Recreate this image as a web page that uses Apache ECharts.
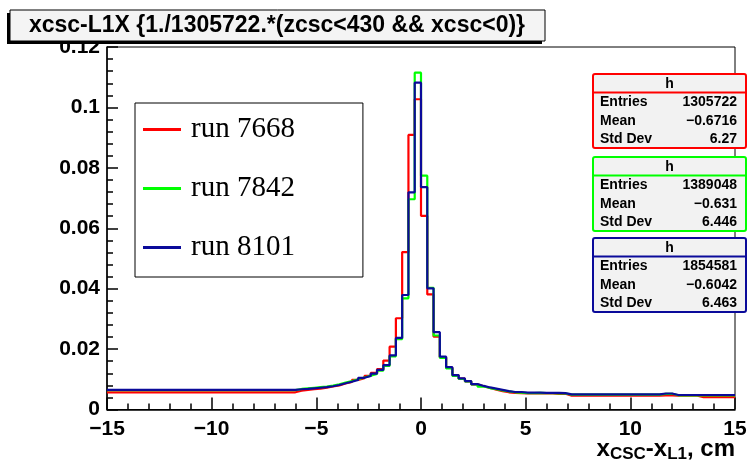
<!DOCTYPE html>
<html>
<head>
<meta charset="utf-8">
<script src="https://cdn.jsdelivr.net/npm/echarts@6/dist/echarts.min.js"></script>
<style>html,body{margin:0;padding:0;background:#fff}#c{width:752px;height:462px}</style>
</head>
<body>
<div id="c"></div>
<script>
// Histogram binning: 100 bins from -15 to 15
const binMin = -15;
const binWidth = 0.3;
const xTicks = [-15, -10, -5, 0, 5, 10, 15];
const yTicks = [0, 0.02, 0.04, 0.06, 0.08, 0.1, 0.12];

const seriesNames = ['run 7668', 'run 7842', 'run 8101'];

const run7668 = [
  0.0057,0.0057,0.0057,0.0057,0.0057,0.0057,0.0057,0.0057,0.0057,0.0057,
  0.0057,0.0057,0.0057,0.0057,0.0057,0.0057,0.0057,0.0057,0.0057,0.0057,
  0.0057,0.0057,0.0057,0.0057,0.0057,0.0057,0.0057,0.0057,0.0057,0.0057,
  0.0062,0.0065,0.0067,0.0069,
  0.0072,0.0076,0.0080,0.0086,0.0091,0.0098,
  0.0104,0.0111,0.0121,0.0134,0.0162,0.0208,0.0302,0.0521,0.0909,0.1027,
  0.0641,0.0381,0.0241,0.0173,0.0138,0.0113,0.0102,0.0093,0.0083,0.0077,
  0.0071,0.0066,0.0061,0.0057,0.0055,0.0054,0.0053,0.0053,0.0053,0.0053,
  0.0053,0.0052,0.0052,
  0.0046,0.0046,0.0046,0.0046,0.0046,0.0046,0.0046,0.0046,0.0046,0.0046,
  0.0046,0.0046,0.0046,0.0046,0.0046,
  0.0047,0.0047,
  0.0046,0.0046,0.0046,0.0046,0.0041,0.0041,0.0041,0.0041,0.0041,0.0041
];
const run7842 = [
  0.0064,0.0064,0.0064,0.0064,0.0064,0.0064,0.0064,0.0064,0.0064,0.0064,
  0.0064,0.0064,0.0064,0.0064,0.0064,0.0064,0.0064,0.0064,0.0064,0.0064,
  0.0064,0.0064,0.0064,0.0064,0.0064,0.0064,0.0064,0.0064,0.0064,0.0064,
  0.0068,0.0070,0.0072,0.0074,
  0.0076,0.0079,0.0083,0.0089,0.0094,0.0100,
  0.0106,0.0112,0.0118,0.0129,0.0144,0.0176,0.0233,0.0368,0.0696,0.1115,
  0.0774,0.0403,0.0245,0.0171,0.0136,0.0111,0.0101,0.0093,0.0083,0.0076,
  0.0071,0.0067,0.0063,0.0060,0.0057,0.0056,0.0054,0.0054,0.0055,0.0054,
  0.0054,0.0053,0.0053,
  0.0049,0.0049,0.0049,0.0049,0.0049,0.0049,0.0049,0.0049,0.0049,0.0049,
  0.0049,0.0049,0.0049,0.0049,0.0049,
  0.0052,0.0052,
  0.0047,0.0047,0.0047,0.0047,0.0047,0.0047,0.0047,0.0047,0.0047,0.0047
];
const run8101 = [
  0.0065,0.0065,0.0065,0.0065,0.0065,0.0065,0.0065,0.0065,0.0065,0.0065,
  0.0065,0.0065,0.0065,0.0065,0.0065,0.0065,0.0065,0.0065,0.0065,0.0065,
  0.0065,0.0065,0.0065,0.0065,0.0065,0.0065,0.0065,0.0065,0.0065,0.0065,
  0.0067,0.0068,0.0070,0.0072,
  0.0074,0.0077,0.0081,0.0087,0.0092,0.0098,
  0.0105,0.0111,0.0119,0.0131,0.0147,0.0179,0.0237,0.0379,0.0719,0.1082,
  0.0736,0.0401,0.0256,0.0175,0.0140,0.0114,0.0103,0.0094,0.0084,0.0078,
  0.0073,0.0069,0.0065,0.0061,0.0058,0.0058,0.0056,0.0056,0.0056,0.0055,
  0.0055,0.0055,0.0054,
  0.0050,0.0050,0.0050,0.0050,0.0050,0.0050,0.0050,0.0050,0.0050,0.0050,
  0.0050,0.0050,0.0050,0.0050,0.0050,
  0.0053,0.0053,
  0.0048,0.0048,0.0048,0.0048,0.0048,0.0048,0.0048,0.0048,0.0048,0.0048
];

const statLabels = ['Entries', 'Mean', 'Std Dev'];
const stats7668 = ['1305722', '\u22120.6716', '6.27'];
const stats7842 = ['1389048', '\u22120.631', '6.446'];
const stats8101 = ['1854581', '\u22120.6042', '6.463'];

const titleText = 'xcsc-L1X {1./1305722.*(zcsc<430 && xcsc<0)}';

const colors = ['#ff0000', '#00ff00', '#0a0a9a'];
const allRuns = [run7668, run7842, run8101];
const allStats = [stats7668, stats7842, stats8101];

function toSteps(vals) {
  const pts = vals.map((v, i) => [binMin + i * binWidth, v]);
  pts.push([binMin + vals.length * binWidth, vals[vals.length - 1]]);
  return pts;
}
const fmtMinus = v => String(v).replace('-', '\u2212');
const sansBold = '"Liberation Sans", Arial, sans-serif';

const chart = echarts.init(document.getElementById('c'), null, {renderer: 'canvas'});

const graphics = [];
// title box with shadow
graphics.push({type: 'rect', z: 15, shape: {x: 7, y: 13, width: 535, height: 31}, style: {fill: '#000'}});
graphics.push({type: 'rect', z: 16, shape: {x: 10, y: 10, width: 535, height: 31}, style: {fill: '#f4f4f4', stroke: '#000', lineWidth: 1}});

// x axis title with subscripts
graphics.push({
  type: 'text', z: 17, x: 735, y: 437,
  style: {
    text: '{m|x}{s|CSC}{m|-x}{s|L1}{m|, cm}',
    textAlign: 'right', textVerticalAlign: 'top',
    rich: {
      m: {fontSize: 24, fontWeight: 'bold', fontFamily: sansBold, fill: '#000', verticalAlign: 'top', lineHeight: 24},
      s: {fontSize: 17, fontWeight: 'bold', fontFamily: sansBold, fill: '#000', verticalAlign: 'top', lineHeight: 24, padding: [9, 0, 0, 0]}
    }
  }
});

// stats boxes
const boxTops = [74, 157, 238];
const boxX = 593, boxW = 153, boxH = 74, headH = 18.5;
const statFont = 'bold 14px "Liberation Sans", Arial, sans-serif';
allStats.forEach((st, k) => {
  const top = boxTops[k];
  graphics.push({type: 'rect', z: 15, shape: {x: boxX, y: top, width: boxW, height: boxH, r: 2}, style: {fill: '#f2f2f2', stroke: colors[k], lineWidth: 2}});
  graphics.push({type: 'line', z: 16, shape: {x1: boxX, y1: top + headH, x2: boxX + boxW, y2: top + headH}, style: {stroke: colors[k], lineWidth: 2}});
  graphics.push({type: 'text', z: 17, x: boxX + boxW / 2, y: top + headH / 2 + 1, style: {text: 'h', fill: '#000', font: statFont, textAlign: 'center', textVerticalAlign: 'middle'}});
  statLabels.forEach((lab, r) => {
    const yy = top + 28.5 + r * 18.3;
    graphics.push({type: 'text', z: 17, x: boxX + 7, y: yy, style: {text: lab, fill: '#000', font: statFont, textAlign: 'left', textVerticalAlign: 'middle'}});
    graphics.push({type: 'text', z: 17, x: boxX + boxW - 9, y: yy, style: {text: st[r], fill: '#000', font: statFont, textAlign: 'right', textVerticalAlign: 'middle'}});
  });
});

chart.setOption({
  animation: false,
  backgroundColor: '#ffffff',
  title: {
    text: titleText,
    left: 277, top: 14, textAlign: 'center', padding: 0, z: 20,
    textStyle: {fontSize: 23, fontWeight: 'bold', fontFamily: sansBold, color: '#000'}
  },
  legend: {
    data: seriesNames,
    orient: 'vertical',
    left: 135, top: 103,
    padding: [12, 68, 15, 8],
    itemGap: 30,
    itemWidth: 38, itemHeight: 3,
    icon: 'rect',
    backgroundColor: '#fff',
    borderColor: '#000', borderWidth: 1,
    textStyle: {fontFamily: '"Liberation Serif", "Times New Roman", serif', fontSize: 29, color: '#000', padding: [0, 0, 0, 5]},
    selectedMode: false
  },
  grid: {left: 107, right: 17, top: 47, bottom: 52.5, show: true, borderColor: '#000', borderWidth: 1, containLabel: false, outerBoundsMode: 'none'},
  xAxis: {
    type: 'value', min: xTicks[0], max: xTicks[xTicks.length - 1], interval: 5,
    axisLine: {show: true, onZero: false, lineStyle: {color: '#000', width: 1.5}},
    axisTick: {show: true, inside: true, length: 12, lineStyle: {color: '#000', width: 1.5}},
    minorTick: {show: true, splitNumber: 5, length: 6, lineStyle: {color: '#000', width: 1.5}},
    splitLine: {show: false},
    axisLabel: {margin: 9, fontSize: 21, fontWeight: 'bold', fontFamily: sansBold, color: '#000', formatter: fmtMinus}
  },
  yAxis: {
    type: 'value', min: yTicks[0], max: yTicks[yTicks.length - 1], interval: 0.02,
    axisLine: {show: true, onZero: false, lineStyle: {color: '#000', width: 1.5}},
    axisTick: {show: true, inside: true, length: 11, lineStyle: {color: '#000', width: 1.5}},
    minorTick: {show: true, splitNumber: 5, length: 6, lineStyle: {color: '#000', width: 1.5}},
    splitLine: {show: false},
    axisLabel: {margin: 7, fontSize: 21, fontWeight: 'bold', fontFamily: sansBold, color: '#000'}
  },
  series: allRuns.map((vals, k) => ({
    name: seriesNames[k],
    type: 'line',
    step: 'end',
    data: toSteps(vals),
    showSymbol: false,
    symbol: 'none',
    lineStyle: {color: colors[k], width: 2.2},
    itemStyle: {color: colors[k]},
    clip: true,
    z: 2 + k
  })),
  graphic: graphics
});
</script>
</body>
</html>
